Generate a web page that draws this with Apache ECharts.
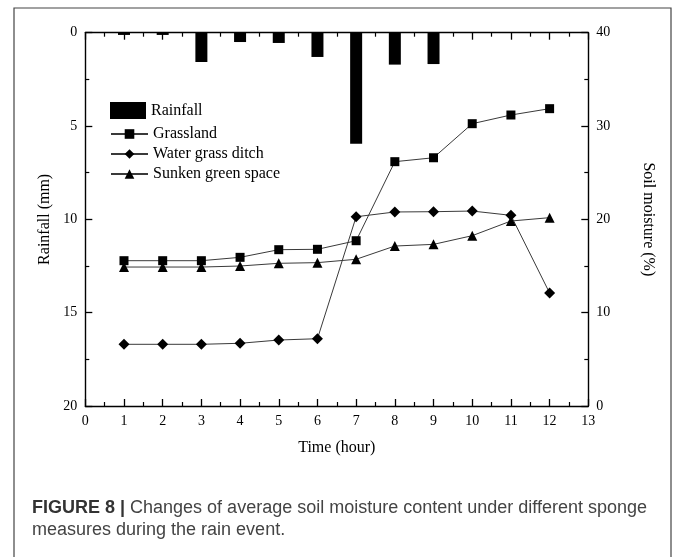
<!DOCTYPE html>
<html>
<head>
<meta charset="utf-8">
<script src="https://cdn.jsdelivr.net/npm/echarts@6/dist/echarts.min.js"></script>
<style>
  html, body { margin: 0; padding: 0; background: #fff; }
  #chart { width: 673px; height: 557px; }
</style>
</head>
<body>
<div id="chart"></div>
<script>
// Hours of the rain event
const hours = [1, 2, 3, 4, 5, 6, 7, 8, 9, 10, 11, 12];
// Hourly rainfall (mm), plotted downward from the top axis
const rainfall = [0.12, 0.12, 1.57, 0.5, 0.55, 1.3, 5.95, 1.71, 1.68, 0, 0, 0];
// Average soil moisture (%) under each sponge measure
const grassland = [15.57, 15.57, 15.57, 15.93, 16.75, 16.79, 17.71, 26.18, 26.6, 30.25, 31.18, 31.86];
const waterGrassDitch = [6.61, 6.61, 6.61, 6.72, 7.07, 7.21, 20.28, 20.79, 20.82, 20.89, 20.43, 12.11];
const sunkenGreenSpace = [14.89, 14.89, 14.89, 15.0, 15.29, 15.36, 15.72, 17.14, 17.32, 18.25, 19.82, 20.18];

const serif = 'Liberation Serif';
const pair = (xs, ys) => xs.map((x, i) => [x, ys[i]]);

const chart = echarts.init(document.getElementById('chart'), null, { renderer: 'canvas' });

const axisLine = { show: true, onZero: false, lineStyle: { color: '#000', width: 1.4 } };
const tickStyle = { show: true, inside: true, length: 7, lineStyle: { color: '#000', width: 1.3 } };
const minorStyle = { show: true, splitNumber: 2, length: 4, lineStyle: { color: '#000', width: 1.2 } };
const labelStyle = { color: '#000', fontFamily: serif, fontSize: 14, margin: 8 };

const lineSeries = (name, data, symbol, size) => ({
  name,
  type: 'line',
  xAxisIndex: 0,
  yAxisIndex: 1,
  data: pair(hours, data),
  symbol,
  symbolSize: size,
  itemStyle: { color: '#000' },
  lineStyle: { color: '#3a3a3a', width: 1 },
  animation: false
});

chart.setOption({
  backgroundColor: '#fff',
  animation: false,
  grid: { left: 85.3, right: 84.7, top: 32.7, bottom: 151, containLabel: false },
  xAxis: [
    {
      type: 'value', position: 'bottom', min: 0, max: 13, interval: 1,
      name: 'Time (hour)', nameLocation: 'middle', nameGap: 34,
      nameTextStyle: { color: '#000', fontFamily: serif, fontSize: 16 },
      axisLine, axisTick: tickStyle, minorTick: minorStyle,
      axisLabel: labelStyle, splitLine: { show: false }
    },
    {
      type: 'value', position: 'top', min: 0, max: 13, interval: 1,
      axisLine, axisTick: tickStyle, minorTick: minorStyle,
      axisLabel: { show: false }, splitLine: { show: false }
    }
  ],
  yAxis: [
    {
      type: 'value', position: 'left', inverse: true, min: 0, max: 20, interval: 5,
      name: 'Rainfall (mm)', nameLocation: 'middle', nameGap: 31, nameRotate: 90,
      nameTextStyle: { color: '#000', fontFamily: serif, fontSize: 16 },
      axisLine, axisTick: tickStyle, minorTick: minorStyle,
      axisLabel: labelStyle, splitLine: { show: false }
    },
    {
      type: 'value', position: 'right', min: 0, max: 40, interval: 10,
      name: 'Soil moisture (%)', nameLocation: 'middle', nameGap: 52, nameRotate: -90,
      nameTextStyle: { color: '#000', fontFamily: serif, fontSize: 16 },
      axisLine, axisTick: tickStyle, minorTick: minorStyle,
      axisLabel: labelStyle, splitLine: { show: false }
    }
  ],
  legend: [
    {
      data: [{ name: 'Rainfall', icon: 'rect' }], orient: 'vertical', left: 105, top: 97,
      itemWidth: 36, itemHeight: 17, itemGap: 0,
      textStyle: { color: '#000', fontFamily: serif, fontSize: 16 },
      selectedMode: false
    },
    {
      data: ['Grassland', 'Water grass ditch', 'Sunken green space'],
      orient: 'vertical', left: 105, top: 119,
      itemWidth: 37, itemHeight: 12, itemGap: 0,
      textStyle: { color: '#000', fontFamily: serif, fontSize: 16, lineHeight: 20 },
      selectedMode: false
    }
  ],
  series: [
    {
      name: 'Rainfall',
      type: 'bar',
      xAxisIndex: 0,
      yAxisIndex: 0,
      data: pair(hours, rainfall),
      barWidth: 12,
      itemStyle: { color: '#000' },
      animation: false
    },
    lineSeries('Grassland', grassland, 'rect', 9),
    lineSeries('Water grass ditch', waterGrassDitch, 'diamond', 11),
    lineSeries('Sunken green space', sunkenGreenSpace, 'triangle', 10)
  ],
  graphic: [
    {
      type: 'rect',
      shape: { x: 14, y: 8, width: 657, height: 570 },
      style: { fill: 'none', stroke: '#444', lineWidth: 1.2 },
      silent: true
    },
    {
      type: 'text',
      left: 32,
      top: 497,
      style: {
        text: '{b|FIGURE 8 |} {r|Changes of average soil moisture content under different sponge}\n{r|measures during the rain event.}',
        rich: {
          b: { fontFamily: 'Liberation Sans', fontSize: 18, fontWeight: 'bold', fill: '#333', lineHeight: 22 },
          r: { fontFamily: 'Liberation Sans', fontSize: 18, fill: '#444', lineHeight: 22 }
        },
        fontFamily: 'Liberation Sans', fontSize: 18, fill: '#444', lineHeight: 22
      },
      silent: true
    }
  ]
});
</script>
</body>
</html>
